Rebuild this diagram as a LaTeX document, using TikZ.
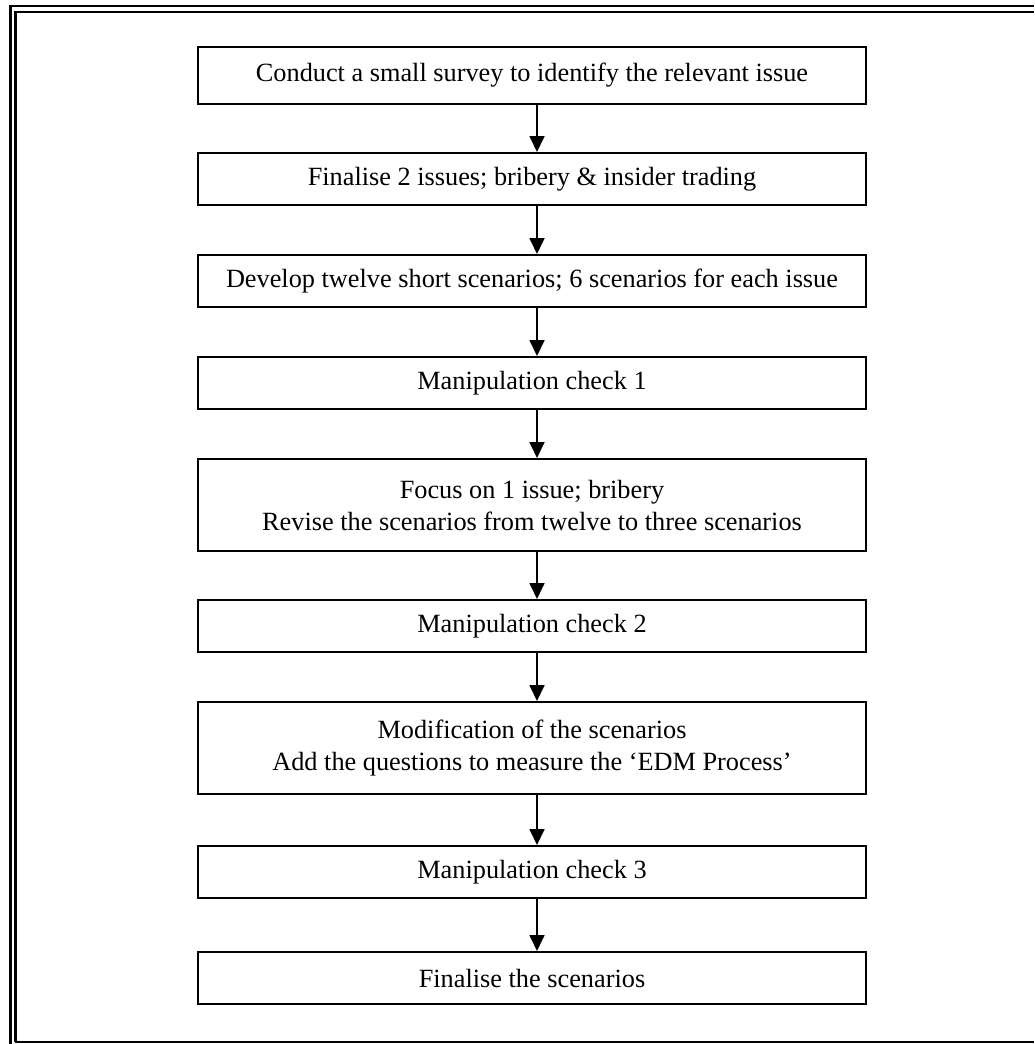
\documentclass[tikz,border=0pt]{standalone}
\usepackage{fontspec}
\setmainfont{Liberation Serif}
\usetikzlibrary{arrows.meta}
\begin{document}
\begin{tikzpicture}[x=1pt,y=-1pt,
  stepbox/.style={draw=black,line width=2pt,rectangle,minimum width=668pt,
    inner sep=0pt,align=center,font=\fontsize{26.3}{32}\selectfont},
  onebox/.style={stepbox,minimum height=52pt},
  twobox/.style={stepbox,minimum height=92pt},
  flow/.style={line width=1.8pt,-{Triangle[width=15pt,length=16pt]}},
  frameline/.style={line width=2.7pt,line cap=butt}]
\useasboundingbox (0,0) rectangle (1034,1044);
% double frame around the chart (cut at the right and bottom)
\coordinate (oTL) at (10.7,6);
\coordinate (oTR) at (1034,6);
\coordinate (oBL) at (10.7,1044);
\coordinate (iTL) at (15.4,12);
\coordinate (iTR) at (1034,12);
\coordinate (iBL) at (15.4,1042);
\coordinate (iBR) at (1034,1042);
\draw[frameline] (oBL) -- (oTL) -- (oTR);
\draw[frameline] (iBL) -- (iTL) -- (iTR);
\draw[line width=1.6pt] (iBL) -- (iBR);
% process steps
\node[stepbox,minimum height=57pt] (s1) at (532,75.5) {Conduct a small survey to identify the relevant issue};
\node[onebox] (s2) at (532,179) {Finalise 2 issues; bribery \& insider trading};
\node[onebox] (s3) at (532,281) {Develop twelve short scenarios; 6 scenarios for each issue};
\node[onebox] (s4) at (532,383) {Manipulation check 1};
\node[twobox] (s5) at (532,505) {Focus on 1 issue; bribery\\Revise the scenarios from twelve to three scenarios};
\node[onebox] (s6) at (532,626) {Manipulation check 2};
\node[twobox] (s7) at (532,748) {Modification of the scenarios\\Add the questions to measure the ‘EDM Process’};
\node[onebox] (s8) at (532,872) {Manipulation check 3};
\node[onebox] (s9) at (532,978) {Finalise the scenarios};
% connectors
\foreach \a/\b in {s1/s2,s2/s3,s3/s4,s4/s5,s5/s6,s6/s7,s7/s8,s8/s9}{
  \draw[flow] ([xshift=5pt]\a.south) -- ([xshift=5pt]\b.north);
}
\end{tikzpicture}
\end{document}
